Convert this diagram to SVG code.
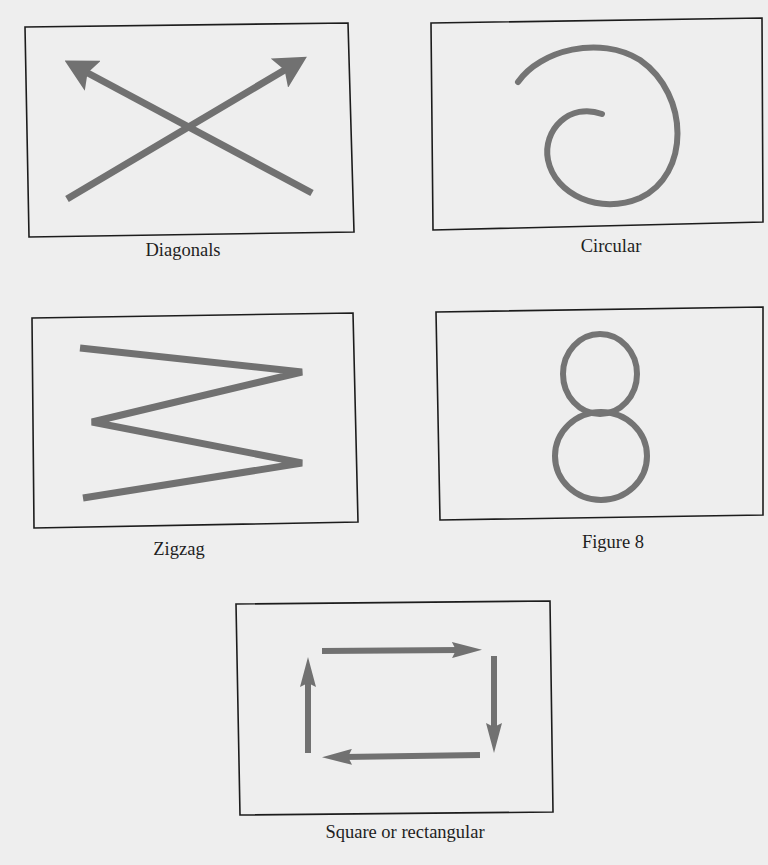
<svg xmlns="http://www.w3.org/2000/svg" width="768" height="865" viewBox="0 0 768 865">
  <style>
    .frame { fill: none; stroke: #1c1c1c; stroke-width: 1.6; }
    .stroke { fill: none; stroke: #717171; stroke-width: 7; stroke-linecap: butt; }
    .sq { fill: none; stroke: #717171; stroke-width: 6; stroke-linecap: butt; }
    .thin { fill: none; stroke: #747474; stroke-width: 6; stroke-linecap: round; }
    .label { font-family: "Liberation Serif", "Times New Roman", serif; font-size: 18.5px; fill: #1e1e1e; text-anchor: middle; }
  </style>
  <defs>
    <marker id="bigHead" markerUnits="userSpaceOnUse" viewBox="0 0 32 34" markerWidth="32" markerHeight="34" refX="10" refY="17" orient="auto">
      <path d="M0,0 L32,17 L0,34 L6,17 Z" fill="#717171"/>
    </marker>
    <marker id="smallHead" markerUnits="userSpaceOnUse" viewBox="0 0 30 16" markerWidth="30" markerHeight="16" refX="8" refY="8" orient="auto">
      <path d="M0,0 L30,8 L0,16 L4,8 Z" fill="#717171"/>
    </marker>
  </defs>
  <rect x="0" y="0" width="768" height="865" fill="#eeeeee"/>

  <g id="diagonals">
    <polygon class="frame" points="25,27 348,23 354,232 29,237"/>
    <line class="stroke" x1="67" y1="199" x2="288" y2="68" marker-end="url(#bigHead)"/>
    <line class="stroke" x1="312" y1="193" x2="84" y2="71" marker-end="url(#bigHead)"/>
    <text class="label" x="183" y="256">Diagonals</text>
  </g>

  <g id="circular">
    <polygon class="frame" points="431,23 762,18 763,222 433,230"/>
    <path class="thin" d="M518,82 C540,50 600,35 640,60 C690,95 690,175 640,198 C600,215 555,195 548,160 C542,130 570,102 602,114"/>
    <text class="label" x="611" y="252">Circular</text>
  </g>

  <g id="zigzag">
    <polygon class="frame" points="32,318 353,313 358,522 34,528"/>
    <polyline class="stroke" stroke-linejoin="miter" points="80,348 302,372 92,422 302,463 83,498"/>
    <text class="label" x="179" y="555">Zigzag</text>
  </g>

  <g id="figure8">
    <polygon class="frame" points="436,312 763,307 763,515 440,520"/>
    <ellipse class="thin" cx="600" cy="374" rx="37" ry="40"/>
    <ellipse class="thin" cx="601" cy="456" rx="46" ry="44"/>
    <text class="label" x="613" y="548">Figure 8</text>
  </g>

  <g id="square">
    <polygon class="frame" points="236,604 550,601 553,812 240,815"/>
    <text class="label" x="405" y="838">Square or rectangular</text>
  </g>

  <g id="connectors">
    <line class="sq" x1="322" y1="651" x2="460" y2="650" marker-end="url(#smallHead)"/>
    <line class="sq" x1="494" y1="656" x2="494" y2="731" marker-end="url(#smallHead)"/>
    <line class="sq" x1="480" y1="755" x2="344" y2="757" marker-end="url(#smallHead)"/>
    <line class="sq" x1="308" y1="753" x2="308" y2="679" marker-end="url(#smallHead)"/>
  </g>
</svg>
